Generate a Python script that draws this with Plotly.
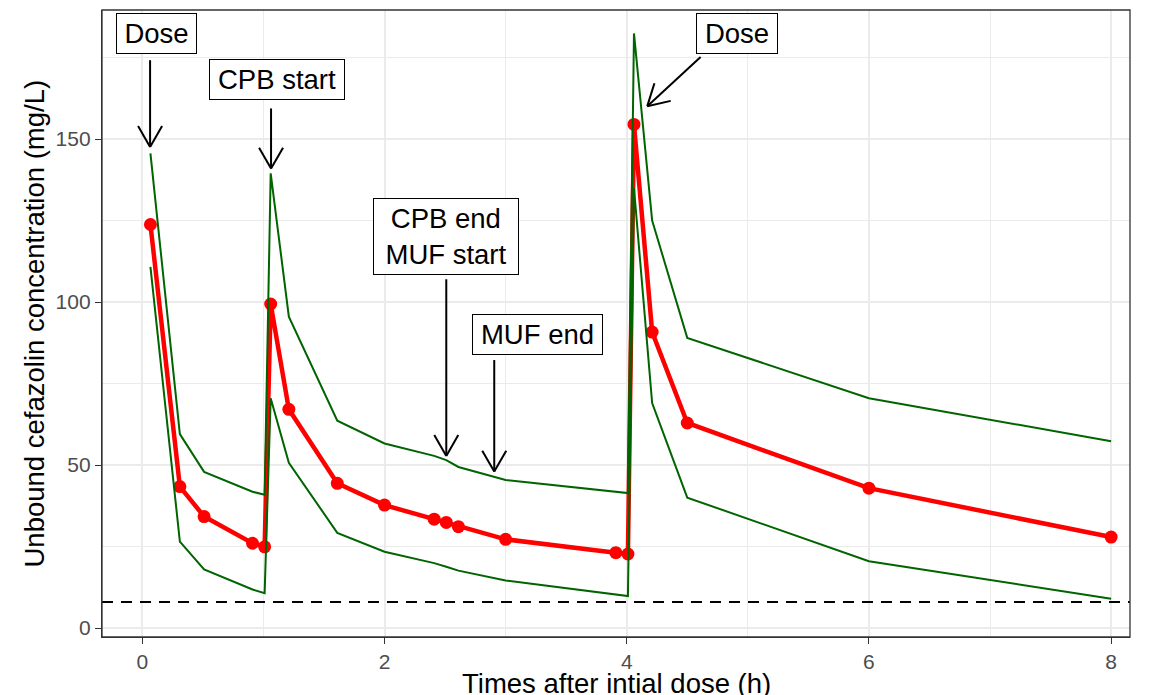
import math
import plotly.graph_objects as go

# sampling times (h) and concentrations (mg/L)
time_h = [0.067, 0.31, 0.51, 0.91, 1.01, 1.06, 1.21, 1.61, 2.0, 2.41, 2.51, 2.61,
          3.0, 3.91, 4.01, 4.06, 4.21, 4.5, 6.0, 8.0]
conc_mean = [123.8, 43.4, 34.2, 26.0, 24.9, 99.4, 67.1, 44.4, 37.7, 33.4, 32.4, 31.1,
             27.2, 23.1, 22.7, 154.5, 90.8, 62.9, 42.9, 27.9]
conc_upper = [145.6, 59.5, 47.9, 41.8, 40.9, 139.5, 95.5, 63.6, 56.6, 52.8, 51.5, 49.4,
              45.4, 41.8, 41.4, 182.4, 125.0, 89.0, 70.5, 57.3]
conc_lower = [110.8, 26.5, 18.0, 11.8, 10.7, 70.5, 50.7, 29.2, 23.4, 19.9, 18.8, 17.6,
              14.6, 10.2, 9.8, 135.0, 69.0, 40.0, 20.5, 9.0]
mic_line = 8

# event labels: text, label x, label y, box width, arrow tail (x, y), arrow tip (x, y)
event_text = ["Dose", "CPB start", "CPB end<br>MUF start", "MUF end", "Dose"]
event_lx = [0.113, 1.114, 2.51, 3.26, 4.907]
event_ly = [182.4, 168.2, 120.2, 89.9, 182.4]
event_w = [71, 126, 136, 121, 72]
arrow_from = [(0.064, 174.2), (1.063, 159.4), (2.51, 107.0), (2.906, 82.2), (4.61, 175.2)]
arrow_to = [(0.064, 147.6), (1.063, 141.0), (2.51, 52.8), (2.906, 48.0), (4.17, 160.1)]

x_title = "Times after intial dose (h)"
y_title = "Unbound cefazolin concentration (mg/L)"

# the page body adds an 8px offset, margins compensate for it
W, H = 1171, 695
M = dict(l=94, r=49, t=2, b=66)
xr = [-0.333, 8.156]
yr = [-2.76, 189.6]
sx = (W - M["l"] - M["r"]) / (xr[1] - xr[0])
sy = (H - M["t"] - M["b"]) / (yr[1] - yr[0])

font = "Liberation Sans, Arial, sans-serif"

fig = go.Figure()

fig.add_hline(y=mic_line, line=dict(color="black", width=2, dash="11px,8px"))

fig.add_trace(go.Scatter(x=time_h, y=conc_mean, mode="lines+markers",
                         line=dict(color="#FF0000", width=4.5),
                         marker=dict(color="#FF0000", size=13), showlegend=False))
fig.add_trace(go.Scatter(x=time_h, y=conc_upper, mode="lines",
                         line=dict(color="#006400", width=2), showlegend=False))
fig.add_trace(go.Scatter(x=time_h, y=conc_lower, mode="lines",
                         line=dict(color="#006400", width=2), showlegend=False))

# arrows with open heads (ggplot style)
ax, ay = [], []
head_len, head_ang = 24, math.radians(30)
for (x0, y0), (x1, y1) in zip(arrow_from, arrow_to):
    ax += [x0, x1, None]
    ay += [y0, y1, None]
    dx, dy = (x1 - x0) * sx, -(y1 - y0) * sy
    n = math.hypot(dx, dy)
    ux, uy = dx / n, dy / n
    for s in (1, -1):
        c, si = math.cos(s * head_ang), math.sin(s * head_ang)
        bx = -(ux * c - uy * si) * head_len
        by = -(ux * si + uy * c) * head_len
        ax += [x1 + bx / sx, x1, None]
        ay += [y1 - by / sy, y1, None]
fig.add_trace(go.Scatter(x=ax, y=ay, mode="lines", line=dict(color="black", width=2),
                         showlegend=False, hoverinfo="skip"))

for txt, lx, ly, bw in zip(event_text, event_lx, event_ly, event_w):
    fig.add_annotation(x=lx, y=ly, text=txt, showarrow=False, width=bw,
                       font=dict(family=font, size=27.5, color="black"),
                       bgcolor="white", bordercolor="black", borderwidth=1,
                       borderpad=4)

# axis titles placed as paper annotations
fig.add_annotation(x=0.5, y=0, xref="paper", yref="paper", text=x_title,
                   showarrow=False, yanchor="middle", yshift=-46,
                   font=dict(family=font, size=27.5, color="black"))
fig.add_annotation(x=0, y=0.5, xref="paper", yref="paper", text=y_title,
                   showarrow=False, textangle=-90, xanchor="center", xshift=-68,
                   font=dict(family=font, size=27.5, color="black"))

# panel border
fig.add_shape(type="rect", xref="paper", yref="paper", x0=0, x1=1, y0=0, y1=1,
              line=dict(color="#333333", width=1.3), fillcolor="rgba(0,0,0,0)")

axis_common = dict(showline=True, linecolor="#333333", linewidth=1.3,
                   ticks="outside", ticklen=6, tickcolor="#333333", tickwidth=1.3,
                   showgrid=True, gridcolor="#EBEBEB", gridwidth=1.5, zeroline=False,
                   automargin=False,
                   tickfont=dict(family=font, size=21, color="#4D4D4D"))

fig.update_xaxes(range=xr, tick0=0, dtick=2,
                 minor=dict(dtick=1, showgrid=True, gridcolor="#EBEBEB", gridwidth=0.8),
                 **axis_common)
fig.update_yaxes(range=yr, tick0=0, dtick=50,
                 minor=dict(dtick=25, showgrid=True, gridcolor="#EBEBEB", gridwidth=0.8),
                 **axis_common)

fig.update_layout(width=W, height=H, margin=M, plot_bgcolor="white",
                  paper_bgcolor="white", showlegend=False)

fig.write_html("out.html")
